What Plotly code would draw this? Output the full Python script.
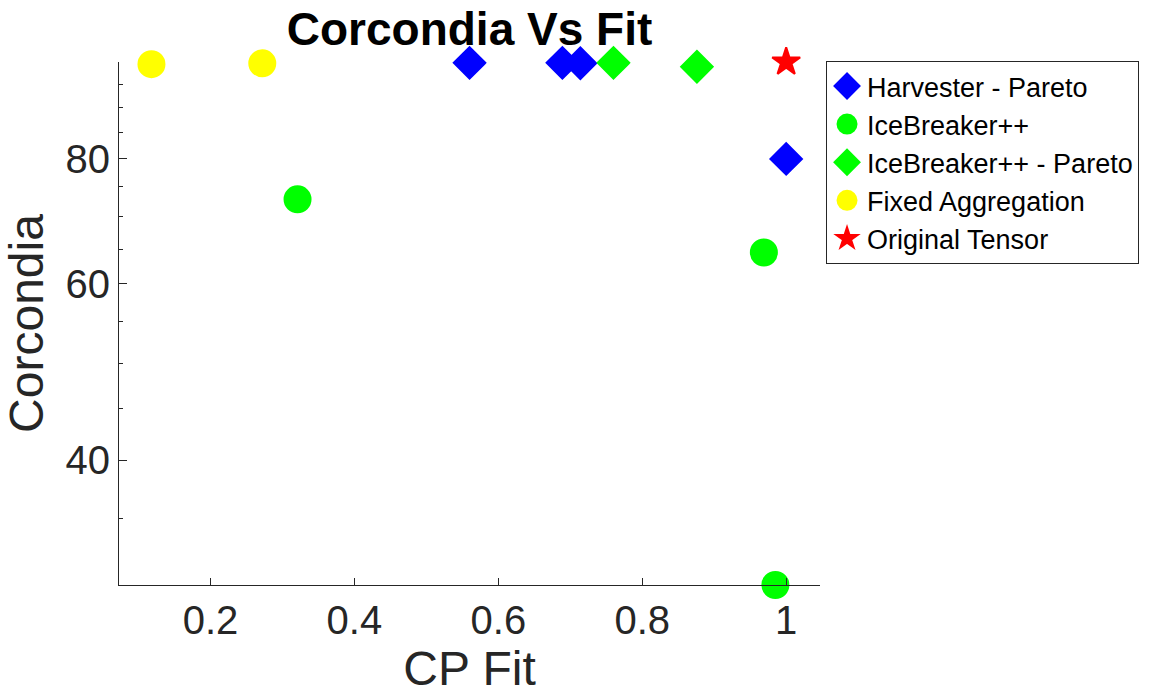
import plotly.graph_objects as go

# CP fit vs. core consistency (Corcondia) for each decomposition method
harvester_fit = [0.560, 0.689, 0.714, 1.000]
harvester_corc = [99.8, 99.8, 99.7, 80.0]

icebreaker_fit = [0.321, 0.969, 0.985]
icebreaker_corc = [72.9, 64.5, 30.0]

icebreaker_pareto_fit = [0.760, 0.876]
icebreaker_pareto_corc = [99.8, 98.9]

fixed_fit = [0.118, 0.272]
fixed_corc = [99.5, 99.7]

original_fit = [1.000]
original_corc = [100.0]

x_ticks = [0.2, 0.4, 0.6, 0.8, 1.0]
x_tick_text = ["0.2", "0.4", "0.6", "0.8", "1"]
y_ticks = [40, 60, 80]
y_minor_ticks = [30, 35, 45, 50, 55, 65, 70, 75, 85, 90, 95, 100]

FONT = "Liberation Sans, Arial, Helvetica, sans-serif"
AXIS_COLOR = "#262626"
EDGE = 5  # outline in the fill colour, so legend glyphs come out larger


def marker(symbol, size, color):
    return dict(symbol=symbol, size=size, color=color, line=dict(width=EDGE, color=color))


fig = go.Figure()

fig.add_trace(go.Scatter(
    x=harvester_fit, y=harvester_corc, mode="markers", name="Harvester - Pareto",
    marker=marker("diamond", 21, "#0000ff"), cliponaxis=False,
))
fig.add_trace(go.Scatter(
    x=icebreaker_fit, y=icebreaker_corc, mode="markers", name="IceBreaker++",
    marker=marker("circle", 23, "#00ff00"), cliponaxis=False,
))
fig.add_trace(go.Scatter(
    x=icebreaker_pareto_fit, y=icebreaker_pareto_corc, mode="markers",
    name="IceBreaker++ - Pareto",
    marker=marker("diamond", 21, "#00ff00"), cliponaxis=False,
))
fig.add_trace(go.Scatter(
    x=fixed_fit, y=fixed_corc, mode="markers", name="Fixed Aggregation",
    marker=marker("circle", 23, "#ffff00"), cliponaxis=False,
))
fig.add_trace(go.Scatter(
    x=original_fit, y=original_corc, mode="markers", name="Original Tensor",
    marker=dict(symbol="star", size=21, color="#ff0000", line=dict(width=2, color="#ff0000")),
    cliponaxis=False,
))

fig.update_layout(
    width=1169, height=700,
    margin=dict(l=119, r=349, t=62, b=115),
    paper_bgcolor="white", plot_bgcolor="white",
    font=dict(family=FONT, color=AXIS_COLOR),
    title=dict(
        text="<b>Corcondia Vs Fit</b>", x=0.5, xref="paper",
        y=1 - 29 / 700, yanchor="middle",
        font=dict(family=FONT, size=46, color="black"),
    ),
    showlegend=True,
    legend=dict(
        x=1.0086, y=1.002, xanchor="left", yanchor="top",
        bgcolor="white", bordercolor=AXIS_COLOR, borderwidth=1,
        font=dict(family=FONT, size=27, color="black"),
        itemsizing="trace", tracegroupgap=0,
    ),
)

fig.update_xaxes(
    range=[0.0729, 1.047],
    tickvals=x_ticks, ticktext=x_tick_text,
    ticks="inside", ticklen=7, tickwidth=1, tickcolor=AXIS_COLOR,
    showline=True, linecolor=AXIS_COLOR, linewidth=1,
    showgrid=False, zeroline=False, mirror=False,
    tickfont=dict(family=FONT, size=40, color=AXIS_COLOR),
    title=dict(text="CP Fit", font=dict(family=FONT, size=48, color=AXIS_COLOR), standoff=8),
)

fig.update_yaxes(
    type="log", range=[1.4771, 2.0],
    tickvals=y_ticks, ticktext=[str(v) for v in y_ticks],
    ticks="inside", ticklen=8, tickwidth=1, tickcolor=AXIS_COLOR,
    minor=dict(tickvals=y_minor_ticks, ticks="inside", ticklen=4, tickcolor=AXIS_COLOR, showgrid=False),
    showline=True, linecolor=AXIS_COLOR, linewidth=1,
    showgrid=False, zeroline=False, mirror=False,
    tickfont=dict(family=FONT, size=40, color=AXIS_COLOR),
    title=dict(text="Corcondia", font=dict(family=FONT, size=48, color=AXIS_COLOR), standoff=8),
)

fig.write_html("out.html")
